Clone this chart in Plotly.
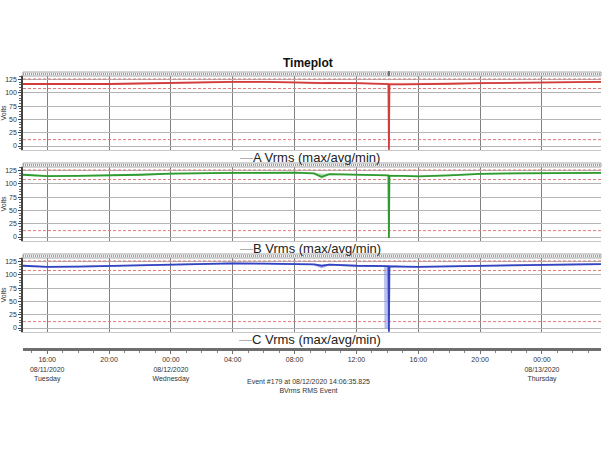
import plotly.graph_objects as go

times = ["2020-08-11 14:26", "2020-08-11 16:00", "2020-08-11 18:00", "2020-08-11 20:00",
         "2020-08-11 22:00", "2020-08-12 00:00", "2020-08-12 02:00", "2020-08-12 04:00",
         "2020-08-12 06:00", "2020-08-12 08:00", "2020-08-12 09:15", "2020-08-12 09:45",
         "2020-08-12 10:15", "2020-08-12 12:00", "2020-08-12 13:48", "2020-08-12 13:50",
         "2020-08-12 14:04", "2020-08-12 14:06", "2020-08-12 14:08", "2020-08-12 15:00",
         "2020-08-12 16:00", "2020-08-12 18:00", "2020-08-12 20:00", "2020-08-12 22:00",
         "2020-08-13 00:00", "2020-08-13 02:00", "2020-08-13 03:49"]

a_avg = [116.5, 116, 116.5, 116.5, 117.5, 119.5, 120, 120.5, 120.5, 120, 118.5, 118, 118.5, 118,
         117, 117, 116.5, -7, 116, 116, 116, 117, 118, 119, 120, 120.5, 120.5]
a_max = [117.5, 117, 117.5, 117.5, 118.5, 120.5, 121, 121.5, 121.5, 121, 120, 119.5, 120, 119,
         118, 118, 117.5, 117.5, 117, 117, 117, 118, 119, 120, 121, 121.5, 121.5]
a_min = [115.5, 115, 115.5, 115.5, 116.5, 118.5, 119, 119.5, 119.5, 119, 117, 116.5, 117, 117,
         116, 116, 115.5, -7, 115, 115, 115, 116, 117, 118, 119, 119.5, 119.5]

b_avg = [117, 114.5, 115, 115.5, 117, 119, 120, 120.5, 120.5, 121, 119.5, 113, 118, 117,
         116.5, 116.5, 116, -2, 115.5, 115, 114, 116, 118.5, 119.5, 120, 120.5, 120.5]
b_max = [118, 115.5, 116, 116.5, 118, 120, 121, 121.5, 121.5, 122, 120.5, 118.5, 119, 118,
         117.5, 117.5, 117, 117, 116.5, 116, 115, 117, 119.5, 120.5, 121, 121.5, 121.5]
b_min = [116, 113.5, 114, 114.5, 116, 118, 119, 119.5, 119.5, 120, 118.5, 110, 117, 116,
         115.5, 115.5, 115, -2, 114.5, 114, 113, 115, 117.5, 118.5, 119, 119.5, 119.5]

c_avg = [117, 115, 115.5, 116.5, 118, 119.5, 120.5, 121.5, 121, 120, 119.5, 117, 119, 117,
         116.5, 116.5, 116.5, -7, 116, 115.5, 115, 116, 117, 118.5, 119.5, 120, 120]
c_max = [118, 116, 116.5, 117.5, 119, 120.5, 121.5, 122.5, 122, 121, 120.5, 118.5, 120, 118,
         117.5, 117.5, 117.5, 117.5, 117, 116.5, 116, 117, 118, 119.5, 120.5, 121, 121]
c_min = [116, 114, 114.5, 115.5, 117, 118.5, 119.5, 120.5, 120, 119, 118.5, 112.5, 118, 116,
         115.5, 0, 0, -7, 115, 114.5, 114, 115, 116, 117.5, 118.5, 119, 119]

thresholds = [126, 108, 12]
y_ticks = [0, 25, 50, 75, 100, 125]
x_ticks = ["2020-08-11 16:00", "2020-08-11 20:00", "2020-08-12 00:00", "2020-08-12 04:00",
           "2020-08-12 08:00", "2020-08-12 12:00", "2020-08-12 16:00", "2020-08-12 20:00",
           "2020-08-13 00:00"]
x_labels = ["16:00<br>08/11/2020<br>Tuesday", "20:00", "00:00<br>08/12/2020<br>Wednesday",
            "04:00", "08:00", "12:00", "16:00", "20:00", "00:00<br>08/13/2020<br>Thursday"]
x_range = ["2020-08-11 14:26", "2020-08-13 03:49"]
event_time = "2020-08-12 14:06"
panel_names = ["A Vrms (max/avg/min)", "B Vrms (max/avg/min)", "C Vrms (max/avg/min)"]
event_lines = ["Event #179 at 08/12/2020 14:06:35.825", "BVrms RMS Event"]
title = "Timeplot"

W, H = 610, 450
def py(p):
    return 1 - p / H

X0, X1 = 23 / W, 601 / W
scale = 0.532
panels = [
    (a_avg, a_max, a_min, "#d23c3c", "rgba(230,120,120,0.55)", 146),
    (b_avg, b_max, b_min, "#2f9a2f", "rgba(120,200,120,0.55)", 237),
    (c_avg, c_max, c_min, "#3344c0", "rgba(140,150,230,0.6)", 328),
]

fig = go.Figure()
shapes = []
annotations = []
FONT = "Liberation Sans, Arial, sans-serif"

for i, (avg, mx, mn, col, band, zero_px) in enumerate(panels):
    n = i + 1
    xa = "x" if n == 1 else f"x{n}"
    ya = "y" if n == 1 else f"y{n}"
    top_px = zero_px - 70
    bot_px = zero_px + 4
    rng = [(zero_px - bot_px) / scale, (zero_px - top_px) / scale]
    fig.add_trace(go.Scatter(x=times, y=mn, mode="lines", line=dict(color=band, width=0.5),
                             xaxis=xa, yaxis=ya, showlegend=False, hoverinfo="skip"))
    fig.add_trace(go.Scatter(x=times, y=mx, mode="lines", line=dict(color=band, width=0.5),
                             fill="tonexty", fillcolor=band,
                             xaxis=xa, yaxis=ya, showlegend=False, hoverinfo="skip"))
    for t in thresholds:
        fig.add_trace(go.Scatter(x=x_range, y=[t, t], mode="lines",
                                 line=dict(color="#e07a7a", width=1, dash="3px,2px"),
                                 xaxis=xa, yaxis=ya, showlegend=False, hoverinfo="skip"))
    fig.add_trace(go.Scatter(x=times, y=avg, mode="lines", line=dict(color=col, width=1.8),
                             xaxis=xa, yaxis=ya, showlegend=False, name=panel_names[i]))

    xkey = "xaxis" if n == 1 else f"xaxis{n}"
    ykey = "yaxis" if n == 1 else f"yaxis{n}"
    fig.layout[xkey] = dict(domain=[X0, X1], range=x_range, type="date", anchor=ya,
                            tickvals=x_ticks, showticklabels=False, showgrid=True,
                            gridcolor="#808080", gridwidth=1, showline=True, mirror=True,
                            linecolor="#c8c8c8", zeroline=False, ticks="", automargin=False)
    fig.layout[ykey] = dict(domain=[py(bot_px), py(top_px)], range=rng, anchor=xa,
                            tickvals=y_ticks, showgrid=True, gridcolor="#b4b4b4", gridwidth=1,
                            zeroline=False, showline=True, linecolor="#444", linewidth=1.5,
                            ticks="outside", ticklen=3, tickcolor="#444", automargin=False,
                            minor=dict(ticks="outside", ticklen=2, dtick=5, tickcolor="#666"),
                            tickfont=dict(size=7, color="#333", family=FONT),
                            title=dict(text="Volts", font=dict(size=7, color="#333", family=FONT),
                                       standoff=2))
    # top strip
    s0, s1 = top_px - 4, top_px
    shapes.append(dict(type="rect", xref="paper", yref="paper", x0=X0, x1=X1,
                       y0=py(s1), y1=py(s0), line=dict(color="#a8a8a8", width=1),
                       fillcolor="#f2f2f2", layer="above"))
    shapes.append(dict(type="line", xref="paper", yref="paper", x0=X0, x1=X1,
                       y0=py((s0 + s1) / 2), y1=py((s0 + s1) / 2),
                       line=dict(color="#a0a0a0", width=2, dash="1px,1px"), layer="above"))
    annotations.append(dict(xref="paper", yref="paper", x=310 / W, y=py(bot_px + 7.5),
                            text="<span style='color:#b0b0b0'>—</span>" + panel_names[i],
                            showarrow=False, font=dict(size=13, color="#222", family=FONT),
                            xanchor="center", yanchor="middle"))

# event marker at top of first panel
shapes.append(dict(type="line", xref="x", yref="paper", x0=event_time, x1=event_time,
                   y0=py(76), y1=py(71), line=dict(color="#222", width=1), layer="above"))
fig.add_trace(go.Scatter(x=[event_time], y=[(146 - 71.5) / scale], mode="markers",
                         marker=dict(symbol="triangle-down", size=4, color="#222"),
                         xaxis="x", yaxis="y", cliponaxis=False, showlegend=False,
                         hoverinfo="skip"))

# bottom time axis
fig.add_trace(go.Scatter(x=x_range, y=[0, 0], mode="lines", line=dict(width=0),
                         xaxis="x4", yaxis="y4", showlegend=False, hoverinfo="skip"))
fig.layout["yaxis4"] = dict(domain=[py(348), py(346)], visible=False, range=[0, 1],
                            anchor="x4")
fig.layout["xaxis4"] = dict(domain=[X0, X1], range=x_range, type="date", anchor="y4",
                            tickvals=x_ticks, ticktext=x_labels, showgrid=False,
                            showline=True, linecolor="#6e6e6e", linewidth=3,
                            ticks="outside", ticklen=3, tickcolor="#6e6e6e", automargin=False,
                            minor=dict(ticks="outside", ticklen=2, dtick=3600000,
                                       tickcolor="#888"),
                            tickfont=dict(size=7, color="#333", family=FONT), zeroline=False)

annotations.append(dict(xref="paper", yref="paper", x=308 / W, y=py(63), text="<b>" + title + "</b>",
                        showarrow=False, font=dict(size=12, color="#111", family=FONT),
                        xanchor="center", yanchor="middle"))
annotations.append(dict(xref="paper", yref="paper", x=308 / W, y=py(385.5),
                        text=event_lines[0] + "<br>" + event_lines[1], showarrow=False,
                        font=dict(size=7, color="#333", family=FONT),
                        xanchor="center", yanchor="middle"))

fig.update_layout(width=W, height=H, margin=dict(l=0, r=0, t=0, b=0, autoexpand=False),
                  paper_bgcolor="white", plot_bgcolor="white",
                  shapes=shapes, annotations=annotations, showlegend=False)

fig.write_html("out.html", config={"displayModeBar": False},
               post_script="document.body.style.margin='0';")
